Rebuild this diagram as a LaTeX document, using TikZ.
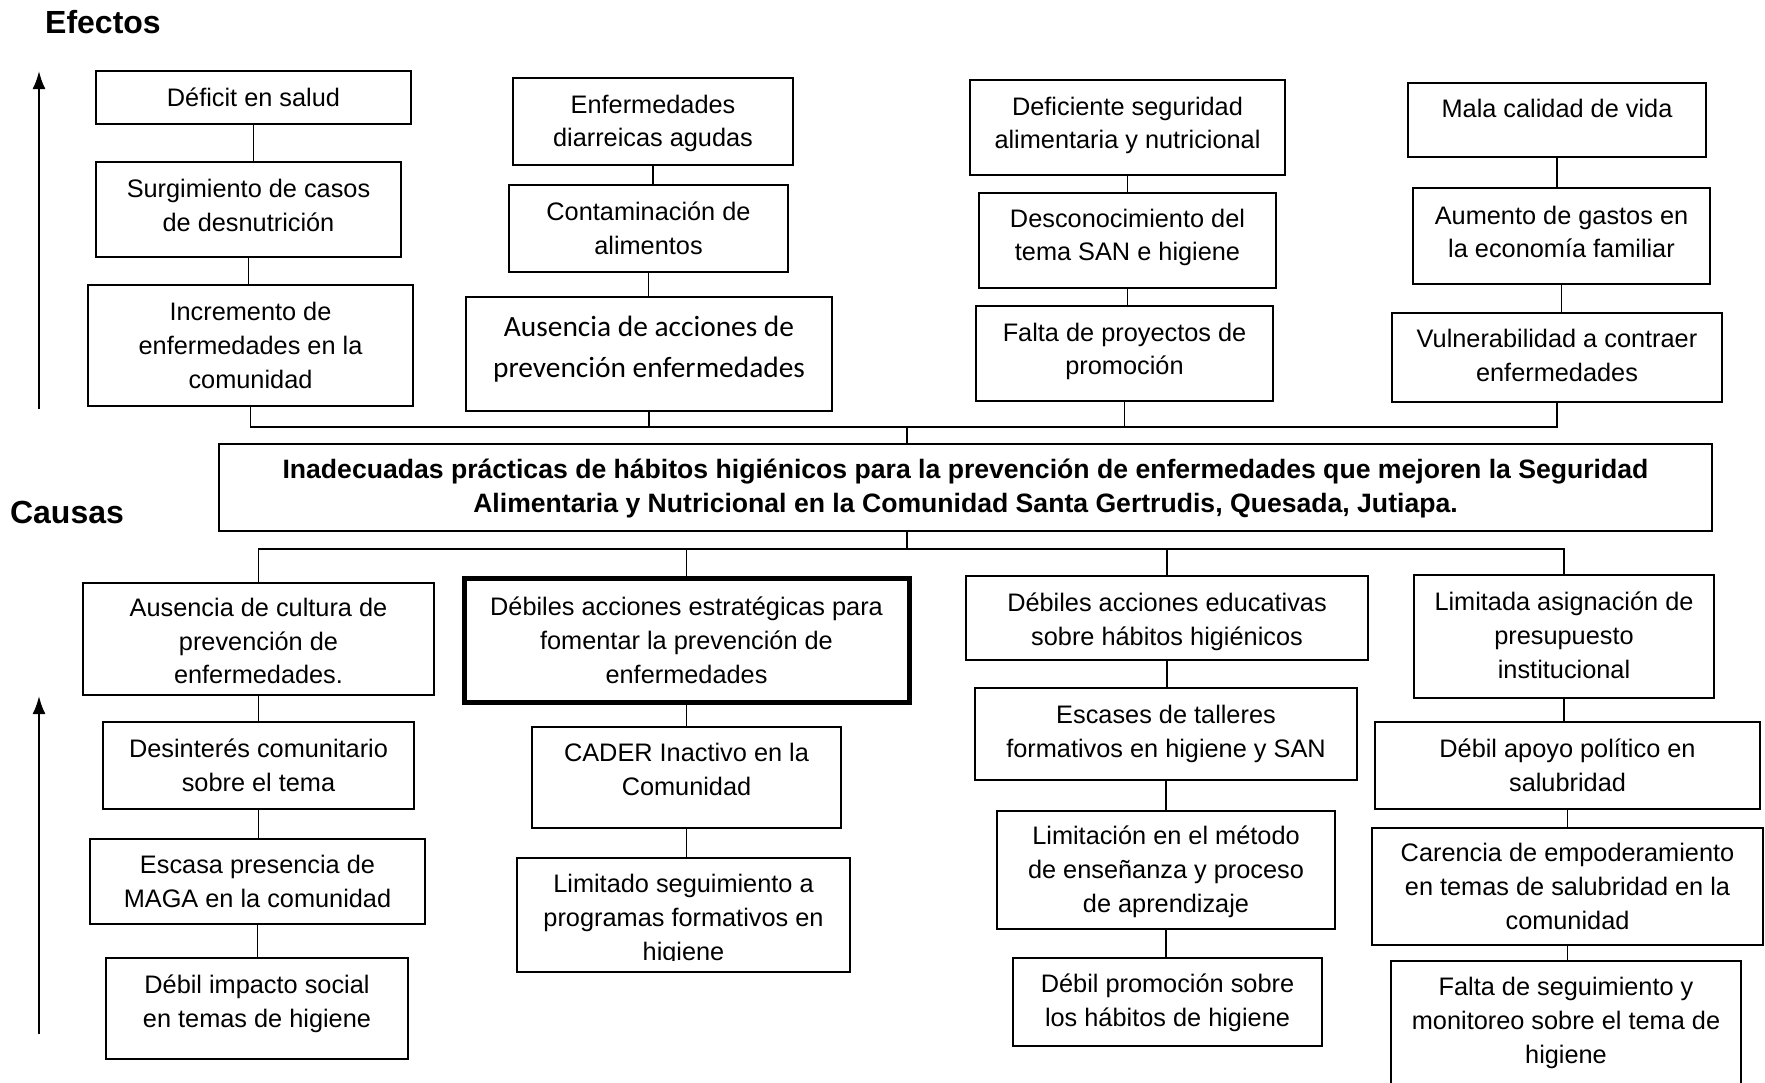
\documentclass[tikz,border=0pt]{standalone}
\usepackage{fontspec}
\setmainfont{Liberation Sans}
\newfontfamily\carlito{Carlito}
\usetikzlibrary{fit,calc,arrows.meta}
\tikzset{
  boxs/.style={draw, line width=0.75pt, inner sep=0pt, rectangle},
  txt/.style={align=center, inner sep=0pt, font=\fontsize{12.66}{16.9}\selectfont},
  link/.style={line width=0.75pt},
  arr/.style={line width=1.1pt, -{Latex[length=9pt,width=6.5pt]}},
  head/.style={font=\fontsize{16}{19}\selectfont\bfseries, inner sep=0pt}
}
% \bx[boxopts]{name}{p1}{p2}{dy}{textopts}{text}
\newcommand\bx[7][]{%
  \node[boxs,#1,fit={(#3) (#4)}] (#2) {};
  \node[txt,#6] (#2t) at ($(#2.center)+(0,#5)$) {#7};
}
\begin{document}
\begin{tikzpicture}[x=0.5pt,y=-0.5pt]
\clip (0,0) rectangle (1765,1082);
\fill[white] (0,0) rectangle (1765,1082);

% headings
\node[head] (efectos) at (103,22) {Efectos};
\node[head] (causas) at (67,512) {Causas};

% arrows
\coordinate (a1b) at (39,409);
\coordinate (a1t) at (39,71);
\coordinate (a2b) at (39,1034);
\coordinate (a2t) at (39,696);
\draw[arr] (a1b) -- (a1t);
\draw[arr] (a2b) -- (a2t);

% effects
\bx{e11}{96,71}{411,124}{0}{}{Déficit en salud}
\bx{e12}{96,162}{401,257}{-4}{}{Surgimiento de casos\\de desnutrición}
\bx{e13}{88,285}{413,406}{0}{}{Incremento de\\enfermedades en la\\comunidad}

\bx{e21}{513,78}{793,165}{2}{}{Enfermedades\\diarreicas agudas}
\bx{e22}{509,185}{788,272}{0}{}{Contaminación de\\alimentos}
\bx{e23}{466,297}{832,411}{-5}{font=\carlito\fontsize{14.7}{20.3}\selectfont}{Ausencia de acciones de\\prevención enfermedades}

\bx{e31}{970,80}{1285,175}{-2}{}{Deficiente seguridad\\alimentaria y nutricional}
\bx{e32}{979,193}{1276,288}{-3}{}{Desconocimiento del\\tema SAN e higiene}
\bx{e33}{976,306}{1273,401}{-2}{}{Falta de proyectos de\\promoción}

\bx{e41}{1408,83}{1706,157}{-12}{}{Mala calidad de vida}
\bx{e42}{1413,188}{1710,284}{-4}{}{Aumento de gastos en\\la economía familiar}
\bx{e43}{1392,313}{1722,402}{-2}{}{Vulnerabilidad a contraer\\enfermedades}

% central problem
\bx{prob}{219,444}{1712,531}{1}{font=\fontsize{13.3}{17.45}\selectfont\bfseries}{Inadecuadas prácticas de hábitos higiénicos para la prevención de enfermedades que mejoren la Seguridad\\Alimentaria y Nutricional en la Comunidad Santa Gertrudis, Quesada, Jutiapa.}

% causes
\bx{c11}{83,583}{434,695}{2}{}{Ausencia de cultura de\\prevención de\\enfermedades.}
\bx{c12}{103,722}{414,809}{0}{}{Desinterés comunitario\\sobre el tema}
\bx{c13}{90,839}{425,924}{0}{}{Escasa presencia de\\MAGA en la comunidad}
\bx{c14}{106,958}{408,1059}{-5}{}{Débil impacto social\\en temas de higiene}

\bx[line width=2.5pt]{c21}{464,578}{909,702}{0}{}{Débiles acciones estratégicas para\\fomentar la prevención de\\enfermedades}
\bx{c22}{532,727}{841,828}{-8}{}{CADER Inactivo en la\\Comunidad}
\node[boxs,fit={(517,858) (850,972)}] (c23) {};
\begin{scope}
  \clip (517,858) rectangle (850,960);
  \node[txt] (c23t) at ($(c23.center)+(0,5)$) {Limitado seguimiento a\\programas formativos en\\higiene};
\end{scope}

\bx{c31}{966,576}{1368,660}{4}{}{Débiles acciones educativas\\sobre hábitos higiénicos}
\bx{c32}{975,688}{1357,780}{0}{}{Escases de talleres\\formativos en higiene y SAN}
\bx{c33}{997,811}{1335,929}{2}{}{Limitación en el método\\de enseñanza y proceso\\de aprendizaje}
\bx{c34}{1013,958}{1322,1046}{1}{}{Débil promoción sobre\\los hábitos de higiene}

\bx{c41}{1414,575}{1714,698}{-1}{}{Limitada asignación de\\presupuesto\\institucional}
\bx{c42}{1375,722}{1760,809}{0}{}{Débil apoyo político en\\salubridad}
\bx{c43}{1372,828}{1763,945}{0}{}{Carencia de empoderamiento\\en temas de salubridad en la\\comunidad}
\node[boxs,fit={(1391,961) (1741,1090)}] (c44) {};
\node[txt] (c44t) at (1566,1023) {Falta de seguimiento y\\monitoreo sobre el tema de\\higiene};

% chains
\foreach \a/\b in {e11/e12,e12/e13,e21/e22,e22/e23,e31/e32,e32/e33,e41/e42,e42/e43,
                   c11/c12,c12/c13,c13/c14,c21/c22,c22/c23,c31/c32,c32/c33,c33/c34,
                   c41/c42,c42/c43,c43/c44}
  \draw[link] (\a.south) -- (\a.south |- \b.north);

% effects bar
\coordinate (ej) at (907,427);
\draw[link] (e13.south) -- (e13.south |- ej) -- (e43.south |- ej) -- (e43.south);
\draw[link] (e23.south) -- (e23.south |- ej);
\draw[link] (e33.south) -- (e33.south |- ej);
\draw[link] (ej) -- (ej |- prob.north);

% causes bar
\coordinate (cj) at (907,549);
\draw[link] (cj |- prob.south) -- (cj);
\draw[link] (c11.north) -- (c11.north |- cj) -- (c41.north |- cj) -- (c41.north);
\draw[link] (c21.north) -- (c21.north |- cj);
\draw[link] (c31.north) -- (c31.north |- cj);
\end{tikzpicture}
\end{document}
